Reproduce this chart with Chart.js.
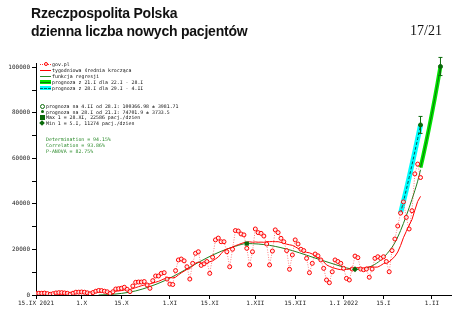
<!DOCTYPE html>
<html><head><meta charset="utf-8">
<script src="https://cdn.jsdelivr.net/npm/chart.js@4.4.0/dist/chart.umd.min.js"></script>
<style>
html,body{margin:0;padding:0;background:#fff;width:475px;height:322px;overflow:hidden;}
#wrap{position:relative;width:475px;height:322px;}
canvas{position:absolute;left:0;top:0;}
.t{position:absolute;white-space:nowrap;}
.title{font-family:"Liberation Sans",Arial,sans-serif;font-weight:bold;font-size:14px;line-height:14px;color:#111;left:31px;letter-spacing:-0.22px;}
.pg{font-family:"Liberation Serif",serif;font-size:14px;line-height:14px;color:#111;left:410px;top:24px;}
.lg{font-family:"DejaVu Sans Mono",monospace;font-size:4.9px;line-height:6px;color:#111;}
.gt{color:#2a8a2a;}
.sym{position:absolute;}
</style></head>
<body><div id="wrap">
<canvas id="c" width="475" height="322"></canvas>
<div class="t title" style="top:6px">Rzeczpospolita Polska</div>
<div class="t title" style="top:24px">dzienna liczba nowych pacjentów</div>
<div class="t pg">17/21</div>

<div class="sym" style="left:40px;top:63.5px;width:11px;border-top:1px dotted #ff3030"></div>
<div class="sym" style="left:43.5px;top:62px;width:2px;height:2px;border:1px solid #ff0000;border-radius:50%;background:#fff"></div>
<div class="t lg" style="left:52px;top:61px">gov.pl</div>
<div class="sym" style="left:40px;top:69.5px;width:11px;height:1px;background:#ff0000"></div>
<div class="t lg" style="left:52px;top:67px">tygodniowa średnia krocząca</div>
<div class="sym" style="left:40px;top:75.5px;width:11px;height:1px;background:#2a8a2a"></div>
<div class="t lg" style="left:52px;top:73px">funkcja regresji</div>
<div class="sym" style="left:40px;top:80px;width:11px;height:4px;background:#00e600"></div>
<div class="sym" style="left:40px;top:81.5px;width:11px;height:1px;background:#0a7a0a"></div>
<div class="t lg" style="left:52px;top:79px">prognoza z 21.I dla 22.I - 28.I</div>
<div class="sym" style="left:40px;top:86px;width:11px;height:4px;background:#00ffff"></div>
<div class="sym" style="left:40px;top:87.5px;width:11px;border-top:1px dashed #066"></div>
<div class="t lg" style="left:52px;top:85px">prognoza z 28.I dla 29.I - 4.II</div>

<div class="sym" style="left:40px;top:103.5px;width:3px;height:3px;border:1px solid #0a6a0a;border-radius:50%"></div>
<div class="t lg" style="left:46px;top:102.7px">prognoza na 4.II od 28.I: 100366.98 ± 3981.71</div>
<div class="sym" style="left:40.5px;top:110px;width:3px;height:3px;background:#0a6a0a;border-radius:50%"></div>
<div class="t lg" style="left:46px;top:108.7px">prognoza na 28.I od 21.I: 74701.9 ± 3733.5</div>
<div class="sym" style="left:39.5px;top:115px;width:5px;height:5px;background:#0a6a0a"></div>
<div class="t lg" style="left:46px;top:114.3px">Max 1 = 28.XI, 22586 pacj./dzien</div>
<div class="sym" style="left:40px;top:121.3px;width:4px;height:4px;background:#0a6a0a;transform:rotate(45deg)"></div>
<div class="t lg" style="left:46px;top:120.3px">Min 1 = 5.I, 11274 pacj./dzien</div>

<div class="t lg gt" style="left:46px;top:136.3px">Determination = 94.15%</div>
<div class="t lg gt" style="left:46px;top:142px">Correlation = 93.86%</div>
<div class="t lg gt" style="left:46px;top:147.7px">P-ANOVA = 82.75%</div>
</div>
<script>
// day index 0 = 15.IX 2021
const dailyCases = [
  722, 773, 770, 840, 601, 308, 587, 901, 1019, 1035,
  905, 751, 358, 785, 1234, 1245, 1321, 1228, 946, 544,
  1081, 1658, 2000, 1938, 1672, 1409, 652, 1426, 2640, 2771,
  2950, 3400, 2500, 1500, 3950, 5580, 5700, 5700, 5900, 4400,
  2950, 6300, 8350, 8350, 9500, 9800, 7000, 4800, 4600, 10700,
  15400, 15800, 15000, 12400, 7000, 13900, 18300, 19000, 13000, 13700,
  14700, 9500, 16600, 24200, 25000, 23400, 23400, 19000, 12400, 20100,
  28300, 28100, 26800, 26400, 20500, 13200, 19000, 29000, 27400, 27100,
  25900, 22400, 13200, 19300, 28600, 27400, 24900, 23400, 19500, 11300,
  17600, 24200, 22400, 20100, 19500, 16100, 9800, 13900, 18000, 17200,
  15400, 11700, 6600, 5400, 10200, 15400, 14700, 13900, 11700, 7300,
  6600, 11400, 17100, 16400, 11400, 11100, 11400, 7800, 11400, 16100,
  16800, 16100, 16800, 14700, 10200, 19500, 24600, 30300, 36000, 40900,
  34100, 29000, 37000, 53200, 57500, 51600
];
const weeklyAvgStartDay = 6;
const weeklyAvg = [
  657, 683, 718, 756, 765, 787, 794, 822, 870, 902,
  943, 989, 1017, 1043, 1086, 1146, 1254, 1342, 1406, 1472,
  1487, 1536, 1677, 1787, 1931, 2178, 2334, 2455, 2816, 3236,
  3654, 4047, 4404, 4676, 4883, 5219, 5614, 5993, 6536, 7093,
  7464, 7729, 7486, 7821, 8829, 9729, 10471, 11243, 11557, 12886,
  13971, 14486, 14086, 13900, 14229, 14586, 14971, 15814, 16671, 18157,
  19543, 20157, 20571, 21071, 21657, 22100, 22586, 23014, 23229, 23343,
  23186, 23286, 23186, 23229, 23157, 23429, 23429, 23471, 23414, 23414,
  23100, 22743, 22329, 22057, 21814, 21186, 20471, 19786, 19229, 18743,
  18529, 18000, 17114, 16371, 15700, 14586, 13229, 12600, 12071, 11700,
  11343, 11129, 11129, 11229, 11400, 11571, 11814, 12057, 11700, 11614,
  12200, 12371, 12371, 12229, 12286, 12957, 13771, 14243, 14586, 15743,
  16957, 18886, 21729, 25171, 27943, 30629, 33129, 37214, 41100, 43329
];
const regDays   = [22, 25, 30, 35, 40, 45, 50, 55, 60, 65, 70, 74, 78, 82, 86, 90, 95, 100, 105, 109, 112, 115, 118, 121, 124, 126, 128, 130, 132, 134, 135];
const regValues = [0, 150, 700, 1800, 3700, 6200, 9400, 12900, 16300, 19200, 21400, 22586, 22400, 21800, 20800, 19500, 17500, 15400, 13400, 11900, 11274, 11500, 12800, 15300, 19300, 23000, 28300, 34800, 42000, 50000, 55000];
const fcGreenDays   = [135, 136, 137, 138, 139, 140, 141, 142];
const fcGreenValues = [56000, 61500, 67300, 73400, 79800, 86300, 93200, 100366.98];
const fcCyanDays    = [128, 129, 130, 131, 132, 133, 134, 135];
const fcCyanValues  = [36000, 41000, 46200, 51600, 57200, 62900, 68700, 74701.9];
const forecastDays   = [142, 135];
const forecastValues = [100366.98, 74701.9];
const forecastErrors = [3981.71, 3733.5];
const maxDay = 74, maxValue = 22586;
const minDay = 112, minValue = 11274;
const xTickDays   = [0, 16, 30, 47, 61, 77, 91, 108, 122, 139];
const xTickLabels = ['15.IX 2021', '1.X', '15.X', '1.XI', '15.XI', '1.XII', '15.XII', '1.I 2022', '15.I', '1.II'];
const yTickValues = [0, 10000, 20000, 30000, 40000, 50000, 60000, 70000, 80000, 90000, 100000];
const yTickLabels = ['0', '', '20000', '', '40000', '', '60000', '', '80000', '', '100000'];

const pts = (xs, ys) => ys.map((v, i) => ({x: xs[i], y: v}));
const DG = '#0a6a0a';

const errorBars = {
  id: 'errorBars',
  afterDatasetsDraw(chart) {
    const ctx = chart.ctx, xs = chart.scales.x, ys = chart.scales.y;
    ctx.save();
    ctx.strokeStyle = DG; ctx.lineWidth = 1;
    forecastDays.forEach((d, i) => {
      const px = xs.getPixelForValue(d);
      const top = ys.getPixelForValue(forecastValues[i] + forecastErrors[i]);
      const bot = ys.getPixelForValue(forecastValues[i] - forecastErrors[i]);
      ctx.beginPath();
      ctx.moveTo(px, top); ctx.lineTo(px, bot);
      ctx.moveTo(px - 2, top); ctx.lineTo(px + 2, top);
      ctx.moveTo(px - 2, bot); ctx.lineTo(px + 2, bot);
      ctx.stroke();
    });
    ctx.restore();
  }
};

new Chart(document.getElementById('c'), {
  type: 'line',
  data: {
    datasets: [
      { label: 'gov.pl', order: 1,
        data: dailyCases.map((v, i) => ({x: i, y: v})),
        borderColor: 'rgba(255,40,40,0.75)', borderWidth: 0.8, borderDash: [1, 1.5],
        pointRadius: 2, pointBorderWidth: 1, pointBorderColor: '#ff0000',
        pointBackgroundColor: 'rgba(255,235,235,0.8)', tension: 0 },
      { label: 'tygodniowa średnia krocząca', order: 2,
        data: weeklyAvg.map((v, i) => ({x: i + weeklyAvgStartDay, y: v})),
        borderColor: '#ff0000', borderWidth: 1, pointRadius: 0, tension: 0 },
      { label: 'max', order: 0, data: [{x: maxDay, y: maxValue}], showLine: false,
        pointStyle: 'rect', pointRadius: 3, backgroundColor: DG, borderColor: DG, pointBorderWidth: 0 },
      { label: 'min', order: 0, data: [{x: minDay, y: minValue}], showLine: false,
        pointStyle: 'rectRot', pointRadius: 3, backgroundColor: DG, borderColor: DG, pointBorderWidth: 0 },
      { label: 'forecast pts', order: 0, data: pts(forecastDays, forecastValues), showLine: false,
        pointRadius: 2, backgroundColor: DG, borderColor: DG, clip: false },
      { label: 'funkcja regresji', order: 3, data: pts(regDays, regValues),
        borderColor: '#1f7f1f', borderWidth: 1, pointRadius: 0, cubicInterpolationMode: 'monotone' },
      { label: 'green inner', order: 4, data: pts(fcGreenDays, fcGreenValues),
        borderColor: '#0a7a0a', borderWidth: 1, pointRadius: 0, cubicInterpolationMode: 'monotone', clip: false },
      { label: 'green band', order: 5, data: pts(fcGreenDays, fcGreenValues),
        borderColor: '#00e600', borderWidth: 4, pointRadius: 0, cubicInterpolationMode: 'monotone', clip: false },
      { label: 'cyan inner', order: 4, data: pts(fcCyanDays, fcCyanValues),
        borderColor: '#075858', borderWidth: 1, borderDash: [3, 2], pointRadius: 0, cubicInterpolationMode: 'monotone' },
      { label: 'cyan band', order: 5, data: pts(fcCyanDays, fcCyanValues),
        borderColor: '#00ffff', borderWidth: 5, pointRadius: 0, cubicInterpolationMode: 'monotone' }
    ]
  },
  options: {
    responsive: false, animation: false, devicePixelRatio: 1,
    layout: { padding: { top: 63, right: 24, left: 0, bottom: 0 } },
    plugins: { legend: { display: false }, tooltip: { enabled: false } },
    scales: {
      x: {
        type: 'linear', min: 0, max: 145.7,
        afterBuildTicks(s) { s.ticks = xTickDays.map(v => ({value: v})); },
        afterFit(s) { s.height = 27; },
        ticks: {
          autoSkip: false, maxRotation: 0, padding: 1, color: '#222',
          font: { family: 'DejaVu Sans Mono', size: 6 },
          callback: (v) => { const i = xTickDays.indexOf(v); return i >= 0 ? xTickLabels[i] : ''; }
        },
        grid: { display: true, drawOnChartArea: false, drawTicks: true, tickLength: 4, color: '#000', lineWidth: 1 },
        border: { display: true, color: '#000', width: 1 }
      },
      y: {
        type: 'linear', min: 0, max: 101900,
        afterBuildTicks(s) { s.ticks = yTickValues.map(v => ({value: v})); },
        afterFit(s) { s.width = 36; },
        ticks: {
          autoSkip: false, padding: 2, color: '#222',
          font: { family: 'DejaVu Sans Mono', size: 6 },
          callback: (v) => { const i = yTickValues.indexOf(v); return i >= 0 ? yTickLabels[i] : ''; }
        },
        grid: { display: true, drawOnChartArea: false, drawTicks: true, tickLength: 4, color: '#000', lineWidth: 1 },
        border: { display: true, color: '#000', width: 1 }
      }
    }
  },
  plugins: [errorBars]
});
</script>
</body></html>
